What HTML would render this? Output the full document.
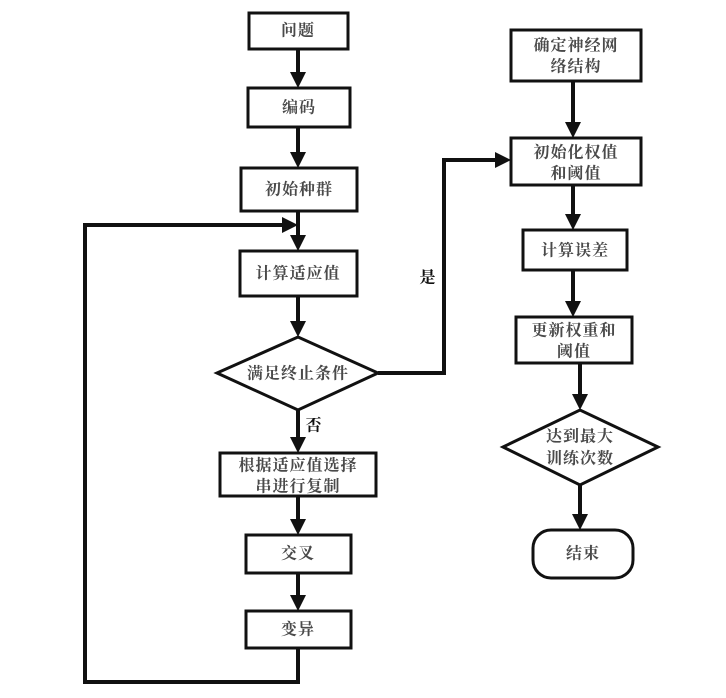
<!DOCTYPE html>
<html><head><meta charset="utf-8"><style>
html,body{margin:0;padding:0;background:#fff;}
svg text{font-family:"Liberation Serif","Noto Serif CJK SC","Noto Sans CJK SC",serif;font-size:16px;font-weight:bold;letter-spacing:1px;fill:#4a4a4a;text-anchor:middle;dominant-baseline:central;}
</style></head><body>
<svg width="726" height="693" viewBox="0 0 726 693" xmlns="http://www.w3.org/2000/svg">
<defs><marker id="a" markerWidth="4" markerHeight="4" refX="3" refY="2" orient="auto" markerUnits="strokeWidth"><path d="M0,0 L4,2 L0,4 z" fill="#111"/></marker></defs>
<g fill="#fff" stroke="#111" stroke-width="3">
<rect x="249" y="13" width="99" height="36"/>
<rect x="248" y="88" width="102" height="39"/>
<rect x="241" y="168" width="116" height="43"/>
<rect x="240" y="251" width="117" height="45"/>
<polygon points="217,373 298,337 378,373 298,410"/>
<rect x="220" y="453" width="156" height="43"/>
<rect x="246" y="535" width="105" height="38"/>
<rect x="246" y="611" width="105" height="37"/>
<rect x="511" y="30" width="130" height="51"/>
<rect x="511" y="138" width="130" height="47"/>
<rect x="523" y="230" width="104" height="40"/>
<rect x="516" y="317" width="116" height="46"/>
<polygon points="503,447 580,410 658,447 580,485"/>
<rect x="533" y="530" width="100" height="48" rx="18"/>
</g>
<g fill="none" stroke="#111" stroke-width="4">
<line x1="298" y1="49" x2="298" y2="84" marker-end="url(#a)"/>
<line x1="298" y1="127" x2="298" y2="164" marker-end="url(#a)"/>
<line x1="298" y1="211" x2="298" y2="247" marker-end="url(#a)"/>
<line x1="298" y1="296" x2="298" y2="333" marker-end="url(#a)"/>
<line x1="298" y1="410" x2="298" y2="449" marker-end="url(#a)"/>
<line x1="298" y1="496" x2="298" y2="531" marker-end="url(#a)"/>
<line x1="298" y1="573" x2="298" y2="607" marker-end="url(#a)"/>
<polyline points="298,648 298,682 85,682 85,225 294,225" marker-end="url(#a)"/>
<polyline points="378,373 444,373 444,160 507,160" marker-end="url(#a)"/>
<line x1="573" y1="81" x2="573" y2="134" marker-end="url(#a)"/>
<line x1="573" y1="185" x2="573" y2="226" marker-end="url(#a)"/>
<line x1="573" y1="270" x2="573" y2="313" marker-end="url(#a)"/>
<line x1="580" y1="363" x2="580" y2="406" marker-end="url(#a)"/>
<line x1="580" y1="485" x2="580" y2="526" marker-end="url(#a)"/>
</g>
<text x="298" y="31">问题</text>
<text x="299" y="108">编码</text>
<text x="299" y="190">初始种群</text>
<text x="298" y="274">计算适应值</text>
<text x="298" y="374">满足终止条件</text>
<text x="298" y="466">根据适应值选择</text>
<text x="298" y="487">串进行复制</text>
<text x="298" y="554">交叉</text>
<text x="298" y="630">变异</text>
<text x="576" y="46">确定神经网</text>
<text x="576" y="67">络结构</text>
<text x="576" y="153">初始化权值</text>
<text x="576" y="174">和阈值</text>
<text x="575" y="251">计算误差</text>
<text x="574" y="331">更新权重和</text>
<text x="574" y="352">阈值</text>
<text x="580" y="437">达到最大</text>
<text x="580" y="459">训练次数</text>
<text x="583" y="554">结束</text>
<text x="314" y="426" style="fill:#111">否</text>
<text x="428" y="278" style="fill:#111">是</text>
</svg>
</body></html>
